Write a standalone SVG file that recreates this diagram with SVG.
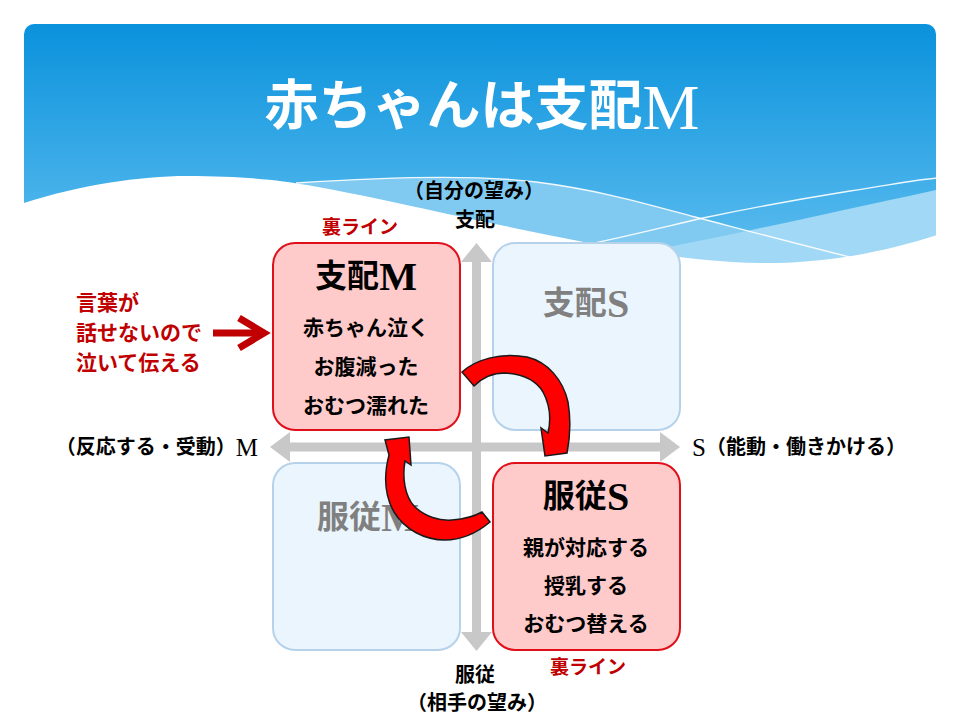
<svg xmlns="http://www.w3.org/2000/svg" width="960" height="720" viewBox="0 0 960 720">
<defs>
<linearGradient id="sky" x1="0" y1="24" x2="0" y2="260" gradientUnits="userSpaceOnUse">
<stop offset="0" stop-color="#0a92dc"/>
<stop offset="1" stop-color="#5dbdef"/>
</linearGradient>
<style>
.t{font-family:"Liberation Serif","Noto Sans CJK JP",serif;text-anchor:middle;dominant-baseline:central}
.b{font-weight:bold}
.red{fill:#c00000}
.gray{fill:#808080}
.pink{fill:#ffcaca;stroke:#e0101a;stroke-width:2}
.blue{fill:#ebf5fd;stroke:#b5d2ea;stroke-width:2}
.axis{fill:#c8c8c8}
.curve{fill:#ff0000;stroke:#1a1a1a;stroke-width:1.5;stroke-linejoin:miter}
.wl{fill:none;stroke:#ffffff;stroke-width:1.3;opacity:0.9}
</style>
</defs>
<rect width="960" height="720" fill="#ffffff"/>
<g id="banner">
<rect x="24" y="24" width="912" height="300" rx="10" fill="url(#sky)"/>
<path d="M296,183 C400,176 480,175 536,182 C600,190 650,205 695,217 C760,234 820,250 880,266 L296,266 Z" fill="#80caf2"/>
<path d="M590,262 C680,246 780,224 936,190 L936,300 L590,300 Z" fill="#a0d8f6"/>
<path class="wl" d="M296,183 C400,176 480,175 536,182 C600,190 650,205 695,217 C760,234 820,250 870,262"/>
<path class="wl" d="M585,245 C620,238 660,228 703,218 C760,206 800,199 850,191 C890,185 915,180 937,178"/>
<path d="M24,203 C80,185 140,176 187,176 C240,176 280,180 307,185 C380,198 450,215 500,225 C580,242 680,262 760,263 C830,264 890,250 937,235 L960,235 L960,720 L0,720 L0,203 Z" fill="#ffffff"/>
<text class="t b" x="482" y="107" font-size="54" fill="#ffffff">赤ちゃんは支配<tspan font-size="64" font-weight="normal">M</tspan></text>
</g>
<g id="axes">
<rect class="axis" x="472" y="260" width="9" height="374"/>
<polygon class="axis" points="476.5,243 492,262 461,262"/>
<polygon class="axis" points="476.5,651 492,632 461,632"/>
<rect class="axis" x="288" y="442.5" width="374" height="9"/>
<polygon class="axis" points="270,447 290,432 290,462"/>
<polygon class="axis" points="680,447 660,432 660,462"/>
</g>
<g id="labels">
<text class="t b" x="474" y="191" font-size="20">（自分の望み）</text>
<text class="t b" x="475" y="220" font-size="20">支配</text>
<text class="t b red" x="360" y="227" font-size="19">裏ライン</text>
<text class="t b" x="475" y="675" font-size="20">服従</text>
<text class="t b" x="477" y="703" font-size="20">（相手の望み）</text>
<text class="t b red" x="588" y="667" font-size="19">裏ライン</text>
<text class="t b" x="258" y="447" font-size="20" style="text-anchor:end">（反応する・受動）<tspan font-size="25" font-weight="normal">M</tspan></text>
<text class="t b" x="692" y="447" font-size="20" style="text-anchor:start"><tspan font-size="25" font-weight="normal">S</tspan>（能動・働きかける）</text>
</g>
<g id="note">
<text class="t b red" x="76" y="303" font-size="21" style="text-anchor:start">言葉が</text>
<text class="t b red" x="76" y="333" font-size="21" style="text-anchor:start">話せないので</text>
<text class="t b red" x="76" y="363" font-size="21" style="text-anchor:start">泣いて伝える</text>
</g>
<g id="node-shihaiS">
<rect class="blue" x="493" y="243" width="187" height="187" rx="22"/>
<text class="t b gray" x="586" y="303" font-size="32">支配<tspan font-size="40">S</tspan></text>
</g>
<g id="node-fukujuM">
<rect class="blue" x="273" y="463" width="187" height="187" rx="22"/>
<text class="t b gray" x="368" y="517" font-size="32">服従<tspan font-size="40">M</tspan></text>
</g>
<g id="node-shihaiM">
<rect class="pink" x="273" y="243" width="187" height="187" rx="22"/>
<text class="t b" x="366" y="276" font-size="32">支配<tspan font-size="40">M</tspan></text>
<text class="t b" x="366" y="328" font-size="21">赤ちゃん泣く</text>
<text class="t b" x="366" y="367" font-size="21">お腹減った</text>
<text class="t b" x="366" y="406" font-size="21">おむつ濡れた</text>
</g>
<g id="node-fukujuS">
<rect class="pink" x="493" y="463" width="187" height="187" rx="22"/>
<text class="t b" x="586" y="496" font-size="32">服従<tspan font-size="40">S</tspan></text>
<text class="t b" x="586" y="548" font-size="21">親が対応する</text>
<text class="t b" x="586" y="586" font-size="21">授乳する</text>
<text class="t b" x="586" y="624" font-size="21">おむつ替える</text>
</g>
<g id="connectors">
<line x1="213" y1="333" x2="258" y2="333" stroke="#c00000" stroke-width="7"/>
<polyline points="239,318 264,333 239,348" fill="none" stroke="#c00000" stroke-width="7" stroke-linecap="butt"/>
<path class="curve" d="M462,372 C475,360 500,352 527,357 C548,362 563,380 568,402 C571,420 570,438 567,453 L545,456 L541,428 L548,433 C551,420 550,405 543,392 C536,380 522,374 505,373 C492,373 482,378 474,386 Z"/>
<path class="curve" d="M490,522 C478,532 462,540 445,540 C425,540 405,530 394,512 C386,498 383,478 389,455 L385,440 L409,437 L411,465 L405,461 C402,478 405,496 414,506 C425,517 440,521 452,520 C465,519 475,516 482,512 Z"/>
</g>
</svg>
